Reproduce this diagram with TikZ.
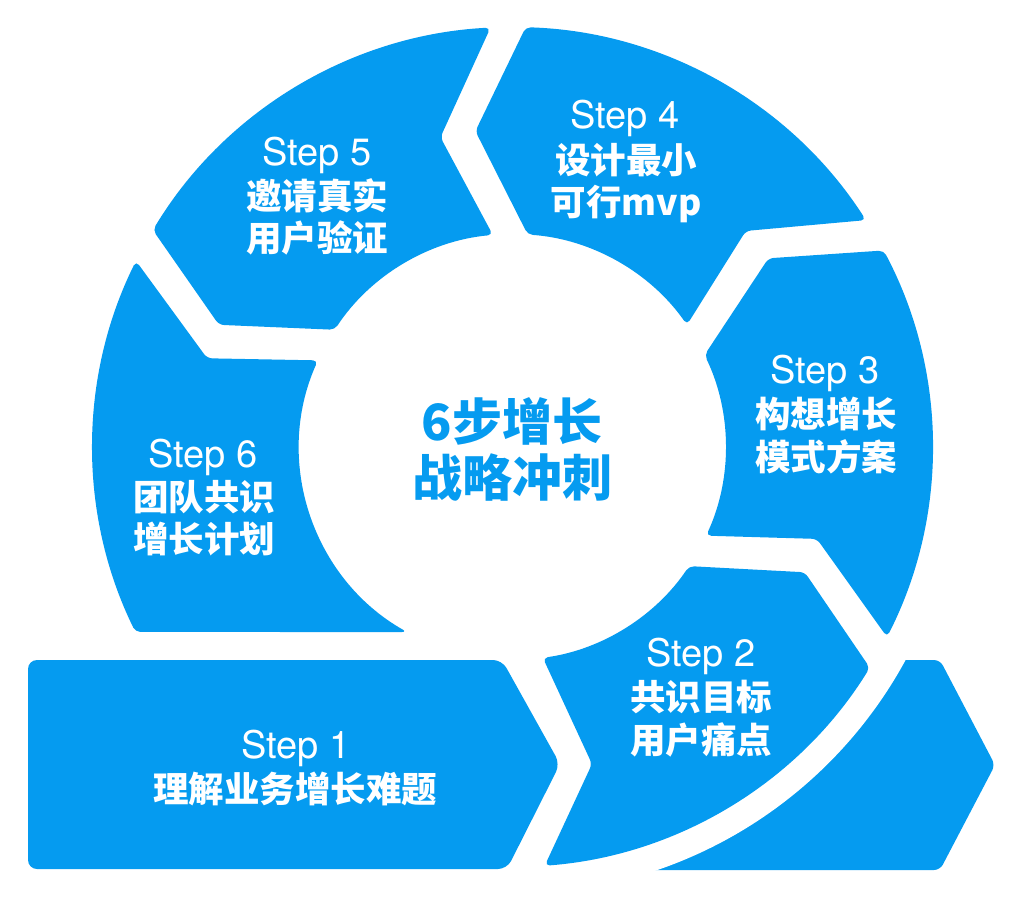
\documentclass[tikz,border=0pt]{standalone}
\usepackage{fontspec}
\setmainfont{TeX Gyre Heros}
\newfontfamily\cjk{Noto Sans CJK SC}
\usetikzlibrary{calc}
\definecolor{stepblue}{RGB}{5,155,240}
\begin{document}
\begin{tikzpicture}[x=1pt,y=-1pt,
  seg/.style={fill=stepblue, draw=none, rounded corners=5pt},
  steplbl/.style={text=white, inner sep=0pt, anchor=base, font=\fontsize{38}{40}\selectfont},
  cjklbl/.style={text=white, inner sep=0pt, anchor=center, font=\cjk\bfseries\fontsize{35.5}{40}\selectfont},
  ctrlbl/.style={text=stepblue, inner sep=0pt, anchor=center, font=\cjk\bfseries\fontsize{50}{56}\selectfont}]
\useasboundingbox (0,0) rectangle (1024,899);
\coordinate (C) at (512.5,447);
% tail of the bottom band (its left part is hidden by the white disk)
\fill[stepblue, rounded corners=6pt] (600,660) -- (940,660) -- (995,765) -- (940,870) -- (600,870) -- cycle;
\fill[white] (C) circle[radius=447];
% Step 1 band
\fill[stepblue, rounded corners=9pt] (28,660) -- (502,660) -- (560,764) -- (507,869) -- (28,869) -- cycle;
% Step 2
\fill[seg] (592,764) -- ($(C)+(85.6:420)$) arc[start angle=85.6, end angle=31.7, radius=420]
  -- ($(C)+(23.2:318)$) -- ($(C)+(34.0:213)$) arc[start angle=34.0, end angle=81.8, radius=213] -- cycle;
% Step 3
\fill[seg] ($(C)+(16.8:318)$) -- ($(C)+(26.9:420)$) arc[start angle=26.9, end angle=-27.9, radius=420]
  -- ($(C)+(-36.4:318)$) -- ($(C)+(-25.6:213)$) arc[start angle=-25.6, end angle=24.6, radius=213] -- cycle;
% Step 4
\fill[seg] ($(C)+(-42.8:318)$) -- ($(C)+(-32.7:420)$) arc[start angle=-32.7, end angle=-88.2, radius=420]
  -- ($(C)+(-96.7:318)$) -- ($(C)+(-85.9:213)$) arc[start angle=-85.9, end angle=-35.0, radius=213] -- cycle;
% Step 5
\fill[seg] ($(C)+(-103.1:318)$) -- ($(C)+(-93.0:420)$) arc[start angle=-93.0, end angle=-148.9, radius=420]
  -- ($(C)+(-157.4:318)$) -- ($(C)+(-146.6:213)$) arc[start angle=-146.6, end angle=-95.3, radius=213] -- cycle;
% Step 6
\fill[seg] ($(C)+(-163.8:318)$) -- ($(C)+(-153.7:420)$) arc[start angle=-153.7, end angle=-206.13, radius=420]
  -- ($(C)+(119.7:213)$) arc[start angle=119.7, end angle=204.0, radius=213] -- cycle;
% labels
\node[steplbl] (s1t) at (296,758) {Step 1};
\node[cjklbl] (s1a) at (295,788.5) {理解业务增长难题};
\node[steplbl] (s2t) at (701,666) {Step 2};
\node[cjklbl] (s2a) at (701,697) {共识目标};
\node[cjklbl] (s2b) at (701,740) {用户痛点};
\node[steplbl] (s3t) at (825,383) {Step 3};
\node[cjklbl] (s3a) at (826,414) {构想增长};
\node[cjklbl] (s3b) at (826,457) {模式方案};
\node[steplbl] (s4t) at (625,128) {Step 4};
\node[cjklbl] (s4a) at (626,160) {设计最小};
\node[cjklbl] (s4b) at (626,204) {可行mvp};
\node[steplbl] (s5t) at (317,165) {Step 5};
\node[cjklbl] (s5a) at (317,196) {邀请真实};
\node[cjklbl] (s5b) at (317,238) {用户验证};
\node[steplbl] (s6t) at (203,467) {Step 6};
\node[cjklbl] (s6a) at (204,497) {团队共识};
\node[cjklbl] (s6b) at (204,539) {增长计划};
\node[ctrlbl] (c1) at (512,421) {6步增长};
\node[ctrlbl] (c2) at (512,477) {战略冲刺};
\end{tikzpicture}
\end{document}
